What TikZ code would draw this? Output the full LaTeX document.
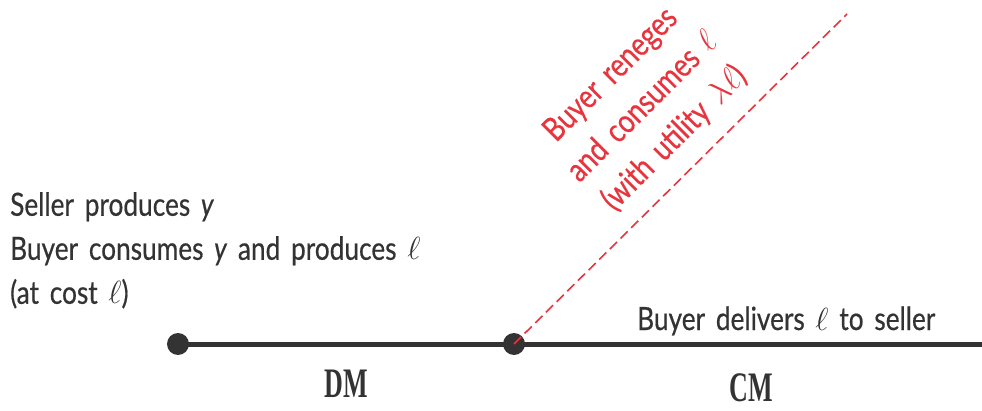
\documentclass[tikz,border=0pt]{standalone}
\usepackage{fix-cm}
\usepackage{fontspec}
\setmainfont{Lato}[FakeStretch=0.82,FakeBold=0.5,WordSpace={1.6}]
\newfontfamily\mkfont[FakeStretch=0.62]{Liberation Serif}
\definecolor{ink}{HTML}{333333}
\definecolor{redl}{HTML}{E8343C}
\newcommand{\vy}{\textit{y}}
\tikzset{
  txt/.style={text=ink, font=\fontsize{32}{44}\selectfont, inner sep=0pt},
  dot/.style={circle, fill=ink, minimum size=22pt, inner sep=0pt},
  mk/.style={text=ink, font=\mkfont\bfseries\fontsize{42}{42}\selectfont, inner sep=0pt},
}
\begin{document}
\begin{tikzpicture}[x=1pt,y=1pt]
\useasboundingbox (0,0) rectangle (982,410);
\node[dot] (a) at (178,66) {};
\node[dot] (b) at (514,66) {};
\coordinate (e) at (982,66);
\coordinate (r) at (847,396);
\draw[ink, line width=5pt] (a.center) -- (e);
\draw[redl, line width=1.6pt, dash pattern=on 10pt off 5pt] (b.center) -- (r);
\node[txt, anchor=north west, align=left] (left) at (10,218) {Seller produces \vy\\Buyer consumes \vy{} and produces $\ell$\\(at cost $\ell$)};
\node[txt, anchor=base west] (deliv) at (637,80) {Buyer delivers $\ell$ to seller};
\node[txt, text=redl, rotate=45, align=center, font=\fontsize{33}{45}\selectfont] (ren) at (643,303) {Buyer reneges\\and consumes $\ell$\\(with utility $\lambda\ell$)};
\node[mk] (dm) at (346,26) {DM};
\node[mk] (cm) at (751,22) {CM};
\end{tikzpicture}
\end{document}
